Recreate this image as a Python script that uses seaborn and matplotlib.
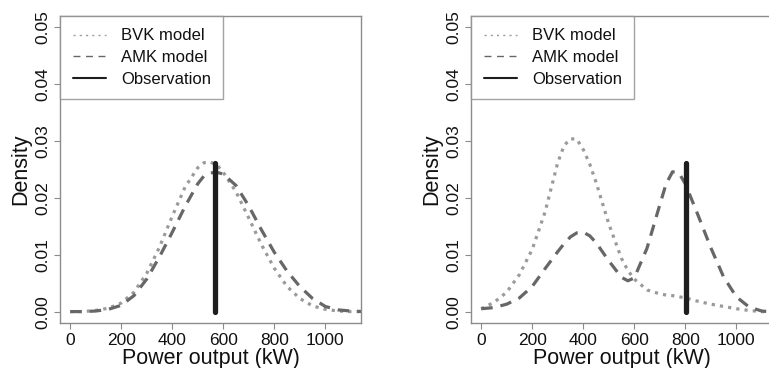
import matplotlib
matplotlib.use("Agg")
import matplotlib.pyplot as plt
from matplotlib.lines import Line2D
import seaborn as sns
import pandas as pd

sns.set_style("white")
plt.rcParams["font.family"] = ["Liberation Sans", "DejaVu Sans"]
plt.rcParams["text.color"] = "#111111"
plt.rcParams["axes.labelcolor"] = "#111111"
plt.rcParams["xtick.labelcolor"] = "#111111"
plt.rcParams["ytick.labelcolor"] = "#111111"

# Predictive densities, case 1 (left panel)
x_left = [0, 50, 100, 150, 200, 250, 300, 350, 400, 450, 500, 525, 550, 575,
          600, 650, 700, 750, 800, 850, 900, 950, 1000, 1050, 1100, 1150]
bvk_left = [0.0001, 0.0001, 0.0003, 0.0007, 0.0016, 0.0035, 0.0068, 0.0114,
            0.0168, 0.0219, 0.0253, 0.0262, 0.0263, 0.0258, 0.0245, 0.0211,
            0.0165, 0.0118, 0.0077, 0.0045, 0.0024, 0.0011, 0.0005, 0.0002,
            0.0001, 0.0001]
amk_left = [0.0001, 0.0001, 0.0002, 0.0005, 0.0012, 0.0029, 0.0058, 0.0097,
            0.0140, 0.0185, 0.0225, 0.0239, 0.0244, 0.0245, 0.0242, 0.0222,
            0.0186, 0.0144, 0.0105, 0.0072, 0.0045, 0.0024, 0.0010, 0.0004,
            0.0002, 0.0001]
obs_left = 568

# Predictive densities, case 2 (right panel)
x_right = [0, 50, 100, 150, 200, 250, 300, 325, 350, 375, 400, 425, 450, 500,
           550, 575, 600, 650, 700, 725, 750, 775, 800, 850, 900, 950, 1000,
           1050, 1100, 1150]
bvk_right = [0.0006, 0.0017, 0.0035, 0.0066, 0.0110, 0.0175, 0.0262, 0.0292,
             0.0304, 0.0303, 0.0285, 0.0260, 0.0228, 0.0155, 0.0094, 0.0073,
             0.0058, 0.0039, 0.0032, 0.0030, 0.0029, 0.0027, 0.0025, 0.0019,
             0.0014, 0.0010, 0.0006, 0.0003, 0.0001, 0.0000]
amk_right = [0.0006, 0.0008, 0.0014, 0.0025, 0.0045, 0.0076, 0.0106, 0.0120,
             0.0132, 0.0139, 0.0140, 0.0134, 0.0122, 0.0090, 0.0061, 0.0055,
             0.0060, 0.0112, 0.0188, 0.0225, 0.0246, 0.0244, 0.0225, 0.0170,
             0.0113, 0.0062, 0.0027, 0.0009, 0.0002, 0.0000]
obs_right = 804

obs_height = 0.0262

labels = ["BVK model", "AMK model", "Observation"]
x_ticks = [0, 200, 400, 600, 800, 1000]
y_ticks = [0.00, 0.01, 0.02, 0.03, 0.04, 0.05]

BVK_COLOR = "#9a9a9a"
AMK_COLOR = "#676767"
OBS_COLOR = "#1e1e1e"
FRAME = "#8c8c8c"

W, H = 769, 368
fig = plt.figure(figsize=(W / 100, H / 100), dpi=100)
ax_w = 301 / W
ax_h = (323 - 16) / H
axes = [fig.add_axes([60 / W, 1 - 323 / H, ax_w, ax_h]),
        fig.add_axes([471 / W, 1 - 323 / H, ax_w, ax_h])]

panels = [(x_left, bvk_left, amk_left, obs_left),
          (x_right, bvk_right, amk_right, obs_right)]

for ax, (xs, bvk, amk, obs) in zip(axes, panels):
    df_b = pd.DataFrame({"power": xs, "density": bvk})
    df_a = pd.DataFrame({"power": xs, "density": amk})
    sns.lineplot(data=df_b, x="power", y="density", ax=ax, color=BVK_COLOR,
                 lw=2.3, sort=False)
    ax.lines[-1].set_dashes((1.0, 1.6))
    sns.lineplot(data=df_a, x="power", y="density", ax=ax, color=AMK_COLOR,
                 lw=2.3, sort=False)
    ax.lines[-1].set_dashes((3.6, 2.5))
    ax.plot([obs, obs], [0, obs_height], color=OBS_COLOR, lw=3.8,
            solid_capstyle="round")

    ax.set_xlim(-40, 1140)
    ax.set_ylim(-0.0019, 0.0519)
    ax.set_xticks(x_ticks)
    ax.set_xticklabels([str(v) for v in x_ticks], fontsize=12.5)
    ax.set_yticks(y_ticks)
    ax.set_yticklabels([f"{v:.2f}" for v in y_ticks], fontsize=12.5,
                       rotation=90, va="center")
    ax.tick_params(axis="both", direction="out", length=4, width=0.8,
                   color=FRAME, pad=3, bottom=True, left=True)
    for sp in ax.spines.values():
        sp.set_visible(True)
        sp.set_color(FRAME)
        sp.set_linewidth(1.0)
    ax.set_xlabel("Power output (kW)", fontsize=15.5, labelpad=0)
    ax.set_ylabel("Density", fontsize=15.5, labelpad=3)

    handles = [Line2D([], [], color=BVK_COLOR, lw=1.0, dashes=(1.5, 3)),
               Line2D([], [], color=AMK_COLOR, lw=1.0, dashes=(5, 4)),
               Line2D([], [], color=OBS_COLOR, lw=1.5)]
    leg = ax.legend(handles, labels, loc="upper left", fontsize=12,
                    frameon=True, fancybox=False, borderaxespad=0,
                    handlelength=2.0, handletextpad=0.9, labelspacing=0.4,
                    borderpad=0.75)
    leg.get_frame().set_edgecolor(FRAME)
    leg.get_frame().set_linewidth(1.0)

fig.savefig("out.png", dpi=100)
